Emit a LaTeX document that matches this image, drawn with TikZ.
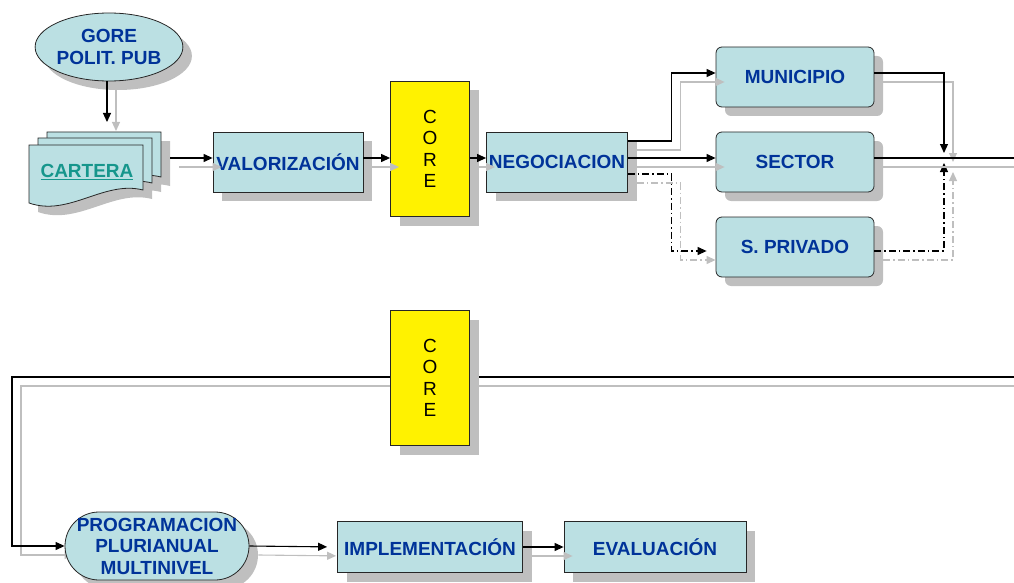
\documentclass[tikz,border=0pt]{standalone}
\usepackage{fontspec}
\setmainfont{Liberation Sans}
\usetikzlibrary{arrows.meta,shapes.geometric,shadows,backgrounds}

\definecolor{azul}{RGB}{0,51,153}
\definecolor{celeste}{RGB}{187,224,227}
\definecolor{verdeazul}{RGB}{22,150,140}

% cada conector se dibuja dos veces: sombra gris y linea negra
\newcommand{\conexion}[2][]{%
  \draw[sombra,#1] #2;
  \draw[linea,#1] #2;}

\begin{document}
\begin{tikzpicture}[x=1pt, y=-1pt,
  caja/.style={draw=black!85, fill=celeste, text=azul, line width=0.8pt,
    font=\bfseries\fontsize{19}{21.5}\selectfont, align=center, inner sep=0pt,
    drop shadow={shadow xshift=9pt, shadow yshift=-9pt, fill=black!25, opacity=1}},
  redondo/.style={caja, rounded corners=6pt, minimum width=158pt, minimum height=60pt},
  nucleo/.style={caja, fill=yellow, text=black, font=\fontsize{19}{21.5}\selectfont,
    minimum width=79pt, minimum height=135pt},
  elipse/.style={caja, ellipse, minimum width=142pt, minimum height=68pt},
  hoja/.style={draw=black!85, fill=celeste, line width=0.8pt},
  linea/.style={draw=black, line width=1.1pt},
  sombra/.style={draw=black!25, line width=1.1pt, transform canvas={shift={(9pt,-9pt)}}},
  flecha/.style={-{Triangle[length=9pt,width=8pt]}},
  raya/.style={dash pattern=on 7pt off 3pt on 1.5pt off 3pt}]

  \useasboundingbox (0,0) rectangle (1014,583);

  % pila de documentos (cartera)
  \foreach \dx/\dy in {18/-13, 9/-7, 0/0}
    \fill[black!25, shift={(\dx+9,\dy+9)}]
      (29,145) -- (143,145) -- (143,190) .. controls (104,180) and (69,217) .. (29,203) -- cycle;
  \foreach \dx/\dy in {18/-13, 9/-7, 0/0}
    \filldraw[hoja, shift={(\dx,\dy)}]
      (29,145) -- (143,145) -- (143,190) .. controls (104,180) and (69,217) .. (29,203) -- cycle;
  \node[text=verdeazul, font=\bfseries\fontsize{19}{21.5}\selectfont] (cartera) at (87,172) {\underline{CARTERA}};
  \coordinate (pila) at (107,132);
  \coordinate (pila-der) at (170,158);

  % fila superior
  \node[elipse] (gore) at (109,47) {GORE\\POLIT. PUB};
  \node[caja, minimum width=150pt, minimum height=60pt] (val) at (288,162) {VALORIZACIÓN};
  \node[nucleo] (core1) at (430,149) {C\\O\\R\\E};
  \node[caja, minimum width=141pt, minimum height=60pt] (neg) at (557,162) {NEGOCIACION};
  \node[redondo] (muni) at (795,77) {MUNICIPIO};
  \node[redondo] (sector) at (795,162) {SECTOR};
  \node[redondo] (spriv) at (795,247) {S. PRIVADO};
  \coordinate (union) at (944,158);
  \coordinate (salida) at (1014,158);

  % fila inferior
  \node[caja, rounded corners=34pt, minimum width=184pt, minimum height=68pt] (prog) at (157,546)
    {PROGRAMACION\\PLURIANUAL\\MULTINIVEL};
  \node[caja, minimum width=185pt, minimum height=51pt] (impl) at (430,547) {IMPLEMENTACIÓN};
  \node[caja, minimum width=182pt, minimum height=51pt] (eval) at (655,547) {EVALUACIÓN};
  \coordinate (entrada) at (1014,377);

  % retorno por detras del segundo CORE
  \begin{scope}[on background layer]
    \conexion[flecha]{(entrada) -- ++(-1002,0) |- (prog.west)}
  \end{scope}
  \node[nucleo] (core2) at (430,378) {C\\O\\R\\E};

  % conectores
  \conexion[flecha, shorten >=10pt]{([xshift=-2pt]gore.south) -- (pila)}
  \conexion[flecha]{(pila-der) -- (pila-der -| val.west)}
  \conexion[flecha]{([yshift=4pt]val.east) -- ([yshift=4pt]val.east -| core1.west)}
  \conexion[flecha]{([yshift=4pt]neg.west -| core1.east) -- ([yshift=4pt]neg.west)}
  \conexion[flecha]{([yshift=21pt]neg.east) -- ++(44,0) |- ([yshift=4pt]muni.west)}
  \conexion[flecha]{([yshift=4pt]neg.east) -- ([yshift=4pt]sector.west)}
  \conexion[flecha, raya, shorten >=9pt]{([yshift=-12pt]neg.east) -- ++(44,0) |- ([yshift=-4pt]spriv.west)}
  \conexion[flecha]{([yshift=4pt]muni.east) -| ([yshift=5pt]union)}
  \conexion[flecha, raya]{([yshift=-4pt]spriv.east) -| ([yshift=-5pt]union)}
  \conexion{([yshift=4pt]sector.east) -- (salida)}
  \conexion[flecha, shorten >=10pt]{(prog.east) -- (impl.west)}
  \conexion[flecha]{(impl.east) -- (eval.west)}

\end{tikzpicture}
\end{document}
